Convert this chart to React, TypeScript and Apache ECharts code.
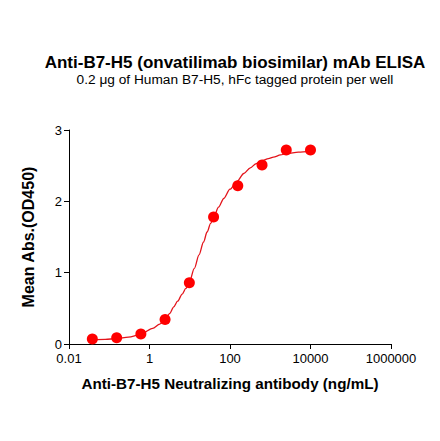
import React, { useEffect, useRef } from "react";
import * as echarts from "echarts";

// measured points (ng/mL, OD450)
const doseNgMl = [0.038, 0.153, 0.61, 2.44, 9.77, 39.1, 156, 625, 2500, 10000];
const meanAbs = [0.07, 0.088, 0.14, 0.345, 0.86, 1.78, 2.22, 2.51, 2.72, 2.72];

// fitted curve
const fitX = [0.038, 0.08, 0.15, 0.3, 0.6, 1.2, 1.8, 2.4, 3.2, 4, 5, 6.5, 8, 9.8, 13, 17, 22, 27, 33, 40, 52, 70, 100, 150, 220, 320, 450, 630, 900, 1200, 1800, 2600, 5000, 10000];
const fitY = [0.06, 0.065, 0.075, 0.095, 0.135, 0.22, 0.28, 0.34, 0.43, 0.52, 0.6, 0.7, 0.78, 0.87, 1.06, 1.25, 1.43, 1.57, 1.69, 1.79, 1.92, 2.04, 2.17, 2.28, 2.39, 2.47, 2.53, 2.57, 2.6, 2.62, 2.65, 2.67, 2.69, 2.7];

const xTicks = ["0.01", "1", "100", "10000", "1000000"];

const FONT = "Arial, 'Liberation Sans', sans-serif";

const App = () => {
  const chartRef = useRef<HTMLDivElement>(null);

  useEffect(() => {
    document.body.style.margin = "0";
    const dom = chartRef.current;
    if (!dom) return;
    const chart = echarts.init(dom, null, { renderer: "svg" });

    const option = {
      animation: false,
      textStyle: { fontFamily: FONT },
      title: [
        {
          text: "Anti-B7-H5 (onvatilimab biosimilar) mAb ELISA",
          left: 230,
          top: 49,
          textAlign: "center",
          textStyle: { fontFamily: FONT, fontSize: 17, fontWeight: "bold", color: "#000" }
        },
        {
          text: "0.2 \u03bcg of Human B7-H5, hFc tagged protein per well",
          left: 230,
          top: 67,
          textAlign: "center",
          textStyle: { fontFamily: FONT, fontSize: 13.7, fontWeight: "normal", color: "#000" }
        }
      ],
      grid: { left: 69, right: 49, top: 130, bottom: 97 },
      xAxis: {
        type: "log",
        logBase: 100,
        min: 0.01,
        max: 1000000,
        name: "Anti-B7-H5 Neutralizing antibody (ng/mL)",
        nameLocation: "middle",
        nameGap: 32,
        nameTextStyle: { fontFamily: FONT, fontSize: 15.2, fontWeight: "bold", color: "#000" },
        axisLine: { lineStyle: { color: "#000", width: 1 } },
        axisTick: { length: 5, lineStyle: { color: "#000" } },
        splitLine: { show: false },
        axisLabel: {
          fontFamily: FONT,
          fontSize: 13,
          color: "#000",
          margin: 8,
          formatter: (v: number) => {
            const s = String(Number(v.toPrecision(6)));
            return xTicks.includes(s) ? s : "";
          }
        }
      },
      yAxis: {
        type: "value",
        min: 0,
        max: 3,
        interval: 1,
        name: "Mean Abs.(OD450)",
        nameLocation: "middle",
        nameGap: 33,
        nameTextStyle: { fontFamily: FONT, fontSize: 16, fontWeight: "bold", color: "#000" },
        axisLine: { show: true, lineStyle: { color: "#000", width: 1 } },
        axisTick: { show: true, length: 5, lineStyle: { color: "#000" } },
        splitLine: { show: false },
        axisLabel: { fontFamily: FONT, fontSize: 13, color: "#000", margin: 7 }
      },
      series: [
        {
          type: "line",
          data: fitX.map((x, i) => [x, fitY[i]]),
          smooth: 0.3,
          smoothMonotone: "x",
          showSymbol: false,
          lineStyle: { color: "#e3141b", width: 1.3 },
          z: 1
        },
        {
          type: "scatter",
          data: doseNgMl.map((x, i) => [x, meanAbs[i]]),
          symbolSize: 11,
          itemStyle: { color: "#ff0000", opacity: 1 },
          z: 2
        }
      ]
    };

    chart.setOption(option);
    return () => {
      chart.dispose();
    };
  }, []);

  return <div ref={chartRef} style={{ width: 440, height: 441 }}></div>;
};

export default App;
